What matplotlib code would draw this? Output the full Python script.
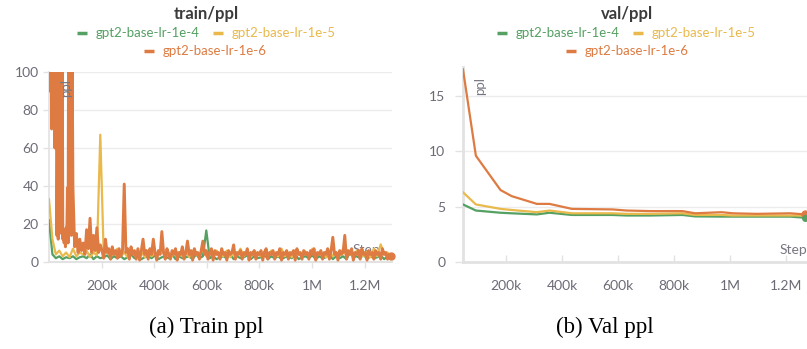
import numpy as np
import matplotlib.pyplot as plt
from matplotlib.lines import Line2D

plt.rcParams['font.family'] = ['Lato', 'DejaVu Sans']

# ---------------- data ----------------
series_names = ["gpt2-base-lr-1e-4", "gpt2-base-lr-1e-5", "gpt2-base-lr-1e-6"]
colors = ["#55a063", "#e9b94c", "#dd7b42"]

# lr-1e-6 train ppl: first 87.5k steps logged every 2.5k, then every 6.5k
train_orange_early = [160, 90, 150, 120, 70, 170, 130, 100, 150, 60, 140, 110,
                      14, 62, 12, 130, 160, 20, 61, 15, 140, 12, 17, 10,
                      16, 8, 18, 12, 39, 10, 150, 130, 20, 160, 14, 120]
train_orange_late = [39, 8, 15, 5, 12, 6, 10, 4, 17, 7, 23, 5, 14, 6, 18, 5, 9,
                     6, 2, 12, 5, 7, 1.5, 8, 4, 6, 2, 7, 3, 6, 41, 5, 7, 1.5, 8, 4, 6,
                     1.5, 7, 1, 6, 12, 4, 6, 1.5, 7, 4, 12, 5, 1, 6, 4, 16, 5, 1.5, 7, 4,
                     1.5, 6, 4, 7, 1, 5, 4, 8, 1.5, 5, 11, 4, 6, 1, 7, 4, 5, 1.5, 6, 11,
                     4, 6, 1.5, 5, 7, 1, 6, 4, 5, 1.5, 7, 4, 5, 1, 6, 4, 5, 9, 1.5, 5,
                     4, 6, 1.5, 5, 4, 7, 1, 5, 4, 6, 1.5, 5, 4, 6, 1, 5, 7, 1.5, 5, 4,
                     6, 1.5, 5, 4, 7, 1, 5, 4, 6, 1.5, 5, 4, 6, 1, 7, 4, 5, 1.5, 6, 4,
                     5, 1.5, 6, 4, 7, 1, 5, 4, 6, 1.5, 5, 4, 7, 1.5, 6, 13, 4, 5, 1, 6,
                     4, 5, 14, 1.5, 6, 4, 7, 1, 5, 4, 6, 1.5, 7, 4, 5, 1, 6, 4, 5, 1.5,
                     6, 4, 5, 1.5, 7, 4, 5, 1.5, 4, 3]
train_green = [22, 4, 2, 3, 1.5, 2.5, 2, 3, 1.5, 2.5,
               3, 2, 4, 1.5, 3, 2, 2.5, 3.5, 1.5, 3,
               2, 3, 1.5, 2.5, 4, 2, 3, 1.5, 2.5, 3,
               2, 3.5, 1.5, 2.5, 3, 2, 4, 1.5, 3, 2,
               2.5, 3, 1.5, 4, 2, 3, 16.6, 2, 3, 1.5,
               2.5, 3, 2, 4, 1.5, 3, 2, 2.5, 3.5, 1.5,
               3, 2, 2.5, 4, 1.5, 3, 2, 3, 1.5, 2.5,
               3, 2, 4, 1.5, 2.5, 3, 2, 3.5, 1.5, 3,
               2, 2.5, 4, 1.5, 3, 2, 3, 1.5, 5, 2.5,
               3, 2, 4, 1.5, 3, 2, 2.5, 3.5, 1.5, 3, 2.5]
train_yellow = [33, 12, 4, 6, 3, 5, 2.5, 7, 3, 5,
                4, 6, 2.5, 5, 3.5, 67, 4, 6, 3, 5,
                7, 3, 5, 2.5, 6, 4, 3, 5.5, 2.5, 6,
                3, 5, 4, 7, 2.5, 5, 3, 6, 4, 3,
                5.5, 2.5, 6, 4, 3, 7, 3, 5, 2.5, 6,
                4, 3, 6, 2.5, 5, 3.5, 7, 3, 5, 2.5,
                6, 4, 3, 5.5, 2.5, 6, 4, 3, 7, 3,
                5, 2.5, 6, 4, 3, 5.5, 2.5, 7, 3, 5,
                4, 2.5, 6, 3, 5, 3.5, 7, 3, 5, 2.5,
                6, 4, 3, 5.5, 2.5, 7, 3, 9.3, 4, 5, 3]
train_orange = train_orange_early + train_orange_late
train_steps_orange = np.concatenate([np.arange(len(train_orange_early)) * 2500,
                                     91000 + np.arange(len(train_orange_late)) * 6500])
train_steps_gy = np.arange(len(train_green)) * 13000

val_steps = [46e3, 92e3, 180e3, 220e3, 310e3, 355e3, 435e3, 580e3, 630e3,
             715e3, 830e3, 875e3, 970e3, 1010e3, 1095e3, 1215e3, 1268e3]
val_green = [5.2, 4.65, 4.45, 4.4, 4.3, 4.45, 4.25, 4.25, 4.2, 4.2, 4.25,
             4.12, 4.1, 4.1, 4.1, 4.1, 4.0]
val_yellow = [6.3, 5.2, 4.8, 4.7, 4.5, 4.65, 4.4, 4.4, 4.35, 4.35, 4.4,
              4.25, 4.25, 4.2, 4.2, 4.2, 4.2]
val_orange = [17.4, 9.6, 6.5, 5.95, 5.25, 5.25, 4.8, 4.75, 4.65, 4.6, 4.6,
              4.4, 4.5, 4.4, 4.35, 4.4, 4.3]

xticks = [200e3, 400e3, 600e3, 800e3, 1e6, 1.2e6]
xtick_labels = ["200k", "400k", "600k", "800k", "1M", "1.2M"]
train_yticks = [0, 20, 40, 60, 80, 100]
val_yticks = [0, 5, 10, 15]

# ---------------- layout ----------------
W, H = 807, 349
fig = plt.figure(figsize=(W / 100, H / 100), dpi=100)
GRID = "#ececec"
SPINE = "#e2e2e2"
TICKC = "#6b6b76"


def fx(px):
    return px / W


def fy(py):
    return 1 - py / H


def axes_px(l, t, r, b):
    return fig.add_axes([fx(l), fy(b), fx(r) - fx(l), fy(t) - fy(b)])


axL = axes_px(49, 72, 392, 262)
axR = axes_px(463, 67.2, 807, 262)

# train
axL.plot(train_steps_gy, train_green, color=colors[0], lw=1.6, zorder=3)
axL.plot(train_steps_gy, train_yellow, color=colors[1], lw=1.6, zorder=4)
axL.plot(train_steps_orange, train_orange, color=colors[2], lw=2.1, zorder=5)
axL.plot(train_steps_orange[-1:], train_orange[-1:], 'o', color=colors[2], ms=5, zorder=6, clip_on=False)
axL.set_xlim(0, 1.304e6)
axL.set_ylim(0, 100)
axL.set_yticks(train_yticks)

# val
axR.plot(val_steps, val_green, color=colors[0], lw=1.6, zorder=3)
axR.plot(val_steps, val_yellow, color=colors[1], lw=1.6, zorder=4)
axR.plot(val_steps, val_orange, color=colors[2], lw=1.6, zorder=5)
axR.plot(val_steps[-1:], val_orange[-1:], 'o', color=colors[2], ms=5, zorder=6, clip_on=False)
axR.plot(val_steps[-1:], val_green[-1:], 'o', color=colors[0], ms=4, zorder=6, clip_on=False)
axR.set_xlim(46e3, 1.275e6)
axR.set_ylim(0, 17.6)
axR.set_yticks(val_yticks)

for ax in (axL, axR):
    ax.set_xticks(xticks)
    ax.set_xticklabels(xtick_labels)
    ax.grid(axis='y', color=GRID, lw=1)
    ax.set_axisbelow(True)
    for s in ('top', 'right'):
        ax.spines[s].set_visible(False)
    for s in ('left', 'bottom'):
        ax.spines[s].set_color(SPINE)
    ax.tick_params(axis='both', colors=SPINE, labelcolor=TICKC, labelsize=10, width=1)

axL.spines['left'].set_linewidth(1.2)
axL.spines['bottom'].set_linewidth(1.5)
axR.spines['left'].set_linewidth(2)
axR.spines['bottom'].set_linewidth(2)
axL.tick_params(axis='y', length=4.3, pad=3)
axL.tick_params(axis='x', direction='out', length=4.3, pad=8.5)
axR.tick_params(axis='y', length=5.8, pad=7)
axR.tick_params(axis='x', direction='in', length=5.0, pad=13)

# in-plot labels
axL.text(0.05, 0.915, "ppl", transform=axL.transAxes, rotation=90, ha='center',
         va='center', color="#777782", fontsize=9.5, zorder=10)
fig.text(fx(480), fy(86), "ppl", rotation=90, ha='center', va='center',
         color="#777782", fontsize=9.5)
axL.text(0.965, 0.063, "Step", transform=axL.transAxes, ha='right', va='center',
         color="#777782", fontsize=10, zorder=1)
fig.text(fx(807), fy(250), "Step", ha='right', va='center', color="#777782", fontsize=10)

# titles
fig.text(fx(206), fy(14), "train/ppl", ha='center', va='center', fontsize=12,
         fontweight='bold', color="#3b3b3b")
fig.text(fx(627), fy(14), "val/ppl", ha='center', va='center', fontsize=12,
         fontweight='bold', color="#3b3b3b")


def legend_item(x0, y, text, color):
    fig.add_artist(Line2D([fx(x0), fx(x0 + 10)], [fy(y), fy(y)], color=color,
                          lw=2.5, transform=fig.transFigure, solid_capstyle='butt'))
    fig.text(fx(x0 + 19), fy(y), text, ha='left', va='center', fontsize=9.5, color=color)


legend_item(77, 33, series_names[0], colors[0])
legend_item(213, 33, series_names[1], colors[1])
legend_item(144, 51, series_names[2], colors[2])
legend_item(497, 33, series_names[0], colors[0])
legend_item(633, 33, series_names[1], colors[1])
legend_item(566, 51, series_names[2], colors[2])

# captions
fig.text(fx(206), fy(327), "(a) Train ppl", ha='center', va='center', fontsize=16.5,
         family='Liberation Serif', color='black')
fig.text(fx(605), fy(327), "(b) Val ppl", ha='center', va='center', fontsize=16.5,
         family='Liberation Serif', color='black')

fig.savefig("out.png", dpi=100)
